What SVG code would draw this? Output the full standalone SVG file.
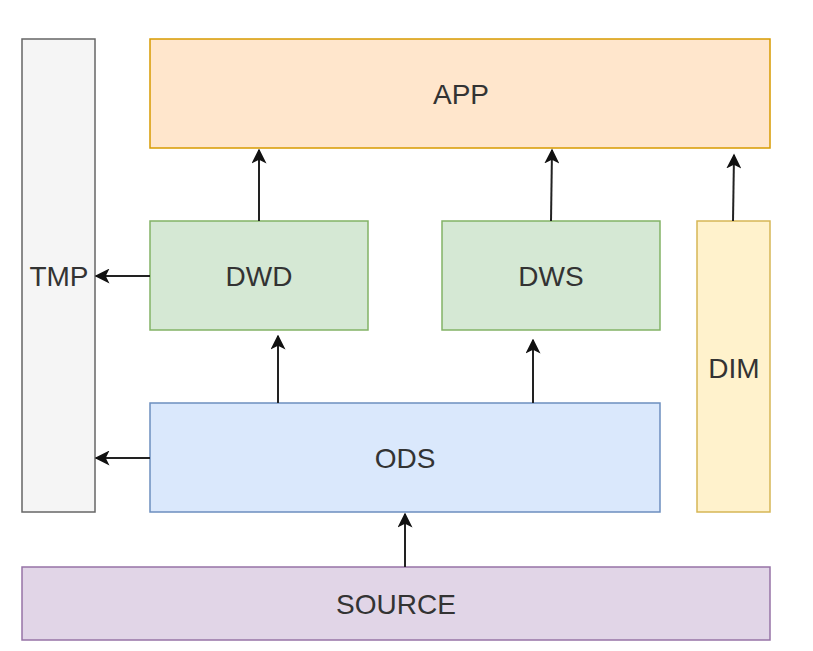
<svg xmlns="http://www.w3.org/2000/svg" width="813" height="651" viewBox="0 0 813 651">
<defs>
<style>
.lbl{font-family:"Liberation Sans",Arial,sans-serif;font-size:28px;fill:#333333;text-anchor:middle}
.box{stroke-width:1.5}
.edge{stroke:#222222;stroke-width:2;fill:none;marker-end:url(#arr)}
</style>
<marker id="arr" viewBox="0 0 10 10" refX="9" refY="5" markerWidth="7.5" markerHeight="7.5" orient="auto" markerUnits="strokeWidth">
<path d="M0,0 L10,5 L0,10 L2.5,5 Z" fill="#111111"/>
</marker>
</defs>
<rect width="813" height="651" fill="#ffffff"/>
<g id="tmp"><rect class="box" x="22" y="39" width="73" height="473" fill="#f5f5f5" stroke="#666666"/><text class="lbl" x="59" y="286">TMP</text></g>
<g id="app"><rect class="box" x="150" y="39" width="620" height="109" fill="#ffe6cc" stroke="#d79b00"/><text class="lbl" x="461" y="104">APP</text></g>
<g id="dwd"><rect class="box" x="150" y="221" width="218" height="109" fill="#d5e8d4" stroke="#82b366"/><text class="lbl" x="259" y="286">DWD</text></g>
<g id="dws"><rect class="box" x="442" y="221" width="218" height="109" fill="#d5e8d4" stroke="#82b366"/><text class="lbl" x="551" y="286">DWS</text></g>
<g id="dim"><rect class="box" x="697" y="221" width="73" height="291" fill="#fff2cc" stroke="#d6b656"/><text class="lbl" x="734" y="378">DIM</text></g>
<g id="ods"><rect class="box" x="150" y="403" width="510" height="109" fill="#dae8fc" stroke="#6c8ebf"/><text class="lbl" x="405" y="468">ODS</text></g>
<g id="source"><rect class="box" x="22" y="567" width="748" height="73" fill="#e1d5e7" stroke="#9673a6"/><text class="lbl" x="396" y="614">SOURCE</text></g>
<g id="connectors">
<path class="edge" d="M259,221 L259,150"/>
<path class="edge" d="M551,221 L552,150"/>
<path class="edge" d="M733,221 L734,155"/>
<path class="edge" d="M150,276 L96,276"/>
<path class="edge" d="M150,458 L96,458"/>
<path class="edge" d="M278,403 L278,336"/>
<path class="edge" d="M533,403 L533,340"/>
<path class="edge" d="M405,567 L405,514"/>
</g>
</svg>
